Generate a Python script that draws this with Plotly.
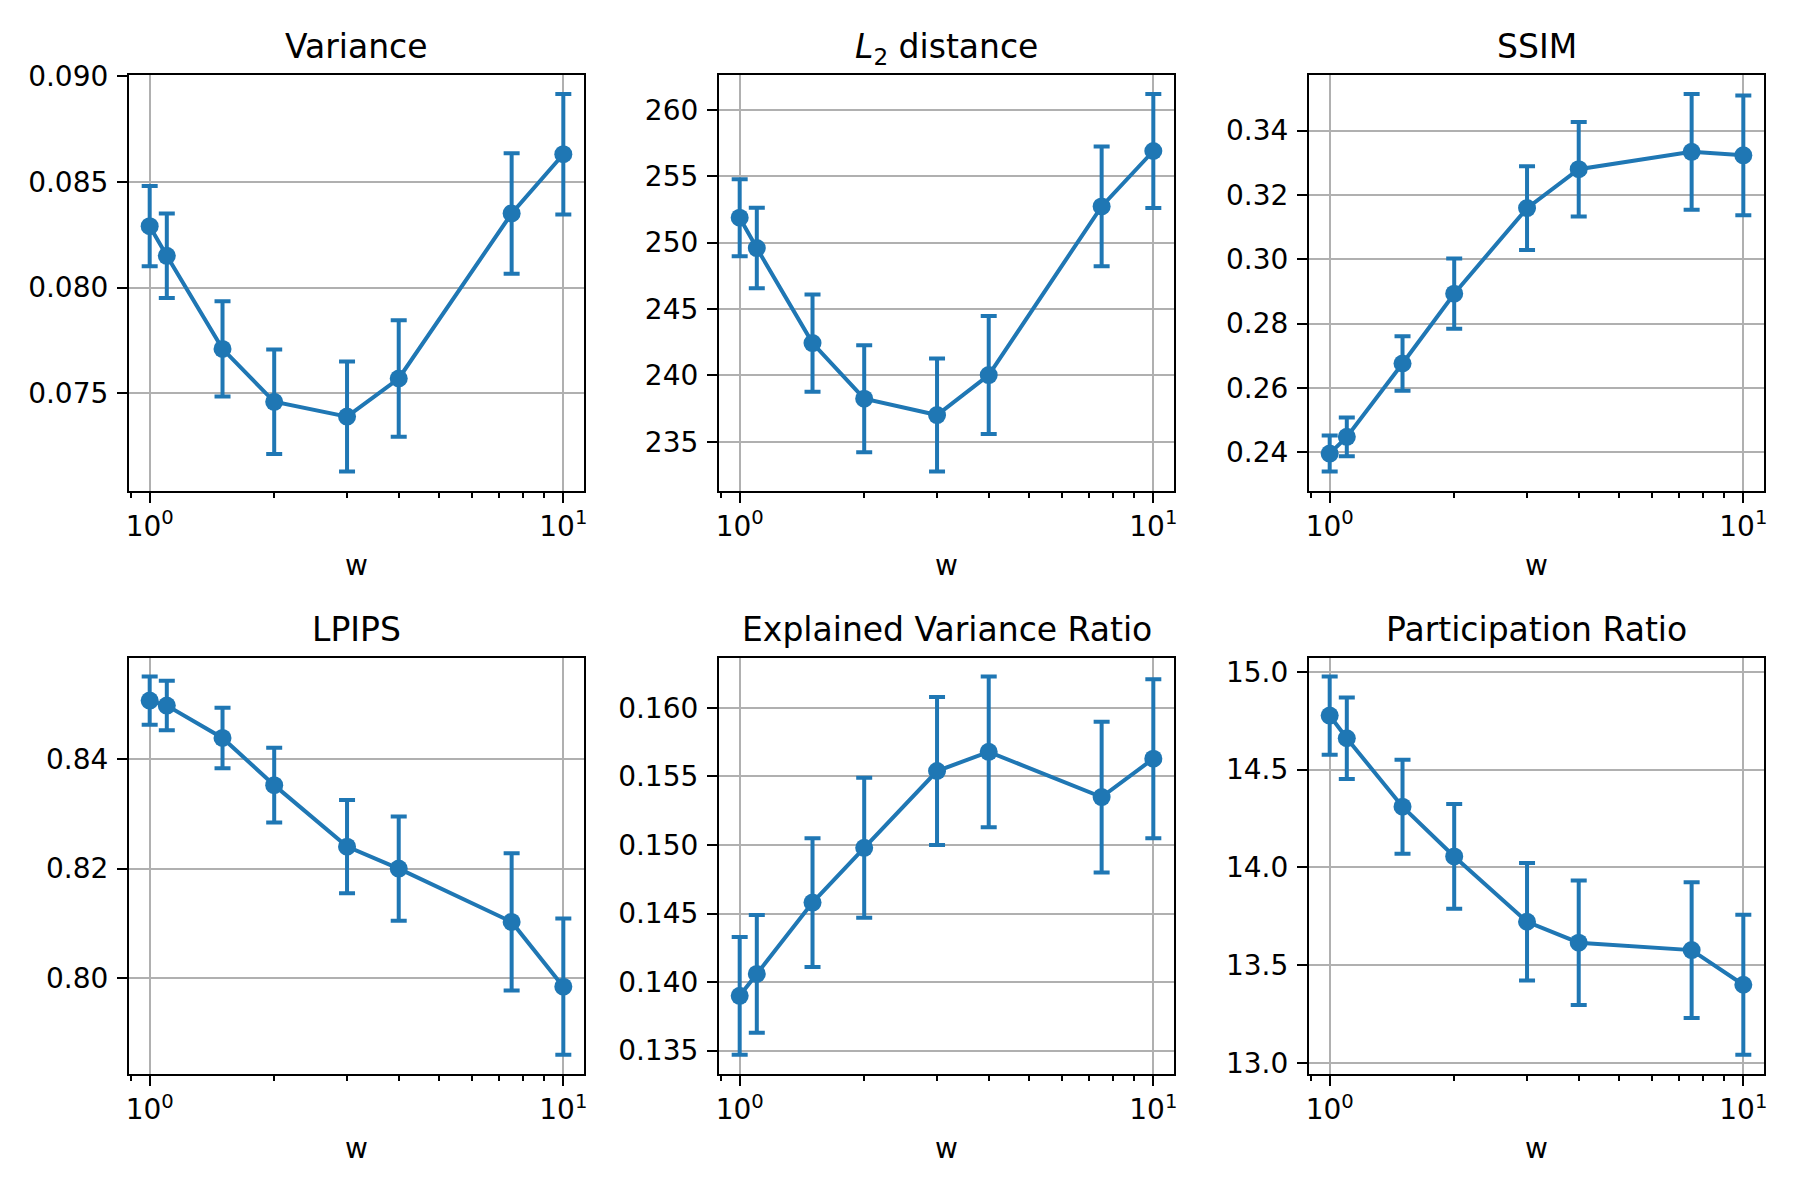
import plotly.graph_objects as go

w = [1, 1.1, 1.5, 2, 3, 4, 7.5, 10]

variance_mean = [0.0829, 0.0815, 0.0771, 0.0746, 0.0739, 0.0757, 0.0835, 0.0863]
variance_err = [0.0019, 0.0020, 0.00225, 0.00247, 0.0026, 0.00275, 0.00285, 0.00285]

l2_mean = [251.87, 249.58, 242.43, 238.24, 237.01, 240.02, 252.72, 256.89]
l2_err = [2.9, 3.03, 3.66, 4.03, 4.26, 4.44, 4.5, 4.3]

ssim_mean = [0.2396, 0.2448, 0.2676, 0.2893, 0.3159, 0.3280, 0.3334, 0.3323]
ssim_err = [0.0056, 0.0060, 0.0085, 0.0109, 0.0130, 0.0147, 0.0180, 0.0186]

lpips_mean = [0.8506, 0.8497, 0.8438, 0.8352, 0.8240, 0.8200, 0.8103, 0.7985]
lpips_err = [0.0044, 0.0045, 0.0055, 0.0068, 0.0085, 0.0095, 0.0125, 0.0124]

evr_mean = [0.1390, 0.1406, 0.1458, 0.1498, 0.1554, 0.1568, 0.1535, 0.1563]
evr_err = [0.0043, 0.0043, 0.0047, 0.0051, 0.0054, 0.0055, 0.0055, 0.0058]

pr_mean = [14.776, 14.660, 14.310, 14.056, 13.722, 13.615, 13.577, 13.400]
pr_err = [0.200, 0.208, 0.240, 0.268, 0.300, 0.318, 0.347, 0.358]

titles = ["Variance", "<i>L</i><sub>2</sub> distance", "SSIM",
          "LPIPS", "Explained Variance Ratio", "Participation Ratio"]
means = [variance_mean, l2_mean, ssim_mean, lpips_mean, evr_mean, pr_mean]
errs = [variance_err, l2_err, ssim_err, lpips_err, evr_err, pr_err]
ytickvals = [
    [0.075, 0.080, 0.085, 0.090],
    [235, 240, 245, 250, 255, 260],
    [0.24, 0.26, 0.28, 0.30, 0.32, 0.34],
    [0.80, 0.82, 0.84],
    [0.135, 0.140, 0.145, 0.150, 0.155, 0.160],
    [13.0, 13.5, 14.0, 14.5, 15.0],
]
ytickfmt = [".3f", "d", ".2f", ".2f", ".3f", ".1f"]

x_tickvals = [1, 10]
x_ticktext = ["10<sup>0</sup>", "10<sup>1</sup>"]
x_minor = [0.9, 2, 3, 4, 5, 6, 7, 8, 9]

OFF = 8  # page body margin
W, H = 1800 - 2 * OFF, 1200 - 2 * OFF
xdom_px = [(129, 584), (719, 1174), (1309, 1764)]
ydom_px = [(75, 490.5), (657.5, 1073.7)]

BLUE = "#1f77b4"
FONT = "DejaVu Sans"

fig = go.Figure()
layout = dict(
    width=W, height=H, autosize=False,
    margin=dict(l=0, r=0, t=0, b=0, pad=0),
    paper_bgcolor="white", plot_bgcolor="white",
    showlegend=False,
    font=dict(family=FONT, size=28, color="black"),
    annotations=[],
)

for i in range(6):
    r, c = divmod(i, 3)
    n = i + 1
    xa = "x" if n == 1 else f"x{n}"
    ya = "y" if n == 1 else f"y{n}"
    m, e = means[i], errs[i]
    fig.add_trace(go.Scatter(
        x=w, y=m, xaxis=xa, yaxis=ya, mode="lines+markers",
        line=dict(color=BLUE, width=4),
        marker=dict(color=BLUE, size=18, symbol="circle"),
        error_y=dict(type="data", array=e, visible=True, color=BLUE,
                     thickness=4, width=8),
        cliponaxis=False,
    ))
    lo = min(a - b for a, b in zip(m, e))
    hi = max(a + b for a, b in zip(m, e))
    pad = 0.05 * (hi - lo)
    x0, x1 = xdom_px[c]
    y0, y1 = ydom_px[r]
    xdom = [(x0 - OFF) / W, (x1 - OFF) / W]
    ydom = [1 - (y1 - OFF) / H, 1 - (y0 - OFF) / H]
    key = "" if n == 1 else str(n)
    layout["xaxis" + key] = dict(
        domain=xdom, anchor=ya, type="log", range=[-0.05, 1.05],
        automargin=False,
        tickmode="array", tickvals=x_tickvals, ticktext=x_ticktext,
        ticks="outside", ticklen=10, tickwidth=2.2, tickcolor="black",
        showline=True, linecolor="black", linewidth=2.2, mirror=True,
        showgrid=True, gridcolor="#b0b0b0", gridwidth=2.2,
        zeroline=False,
        tickfont=dict(family=FONT, size=28, color="black"),
        minor=dict(tickmode="array", tickvals=x_minor, ticks="outside",
                   ticklen=5.6, tickwidth=1.7, tickcolor="black", showgrid=False),
        title=dict(text="w", font=dict(family=FONT, size=28, color="black"), standoff=13),
    )
    layout["yaxis" + key] = dict(
        domain=ydom, anchor=xa, range=[lo - pad, hi + pad],
        automargin=False,
        tickmode="array", tickvals=ytickvals[i], tickformat=ytickfmt[i],
        ticks="outside", ticklen=10, tickwidth=2.2, tickcolor="black",
        ticklabelstandoff=3,
        showline=True, linecolor="black", linewidth=2.2, mirror=True,
        showgrid=True, gridcolor="#b0b0b0", gridwidth=2.2,
        zeroline=False,
        tickfont=dict(family=FONT, size=28, color="black"),
    )
    layout["annotations"].append(dict(
        text=titles[i], xref="paper", yref="paper",
        x=(xdom[0] + xdom[1]) / 2, y=ydom[1], xanchor="center", yanchor="bottom",
        yshift=3 if i == 1 else 7, showarrow=False,
        font=dict(family=FONT, size=33, color="black"),
    ))

fig.update_layout(**layout)
fig.write_html("out.html")
